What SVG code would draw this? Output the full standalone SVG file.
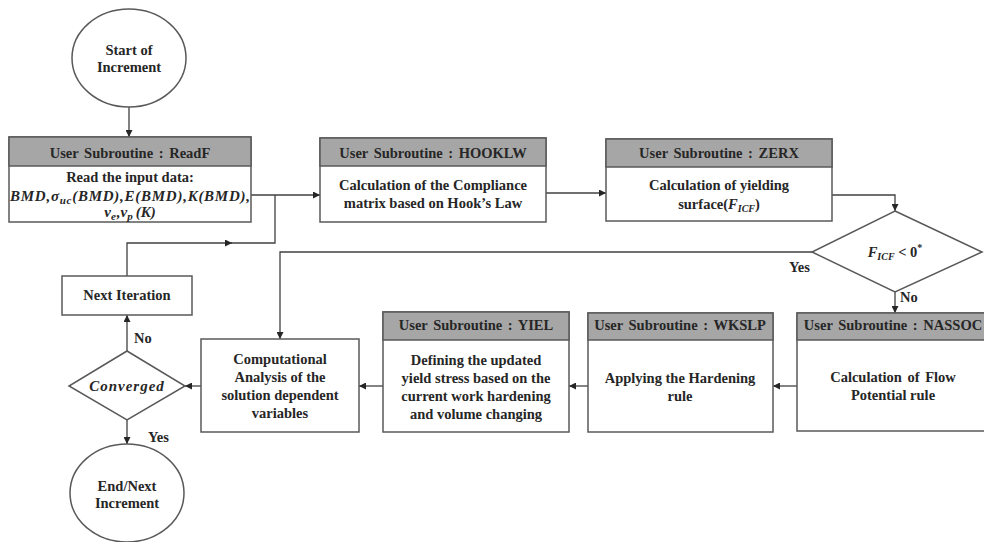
<svg xmlns="http://www.w3.org/2000/svg" width="984" height="542" viewBox="0 0 984 542">
<style>
  .box{fill:#fff;stroke:#595959;stroke-width:1.5}
  .hdr{fill:#a6a6a6;stroke:#595959;stroke-width:1.5}
  .t{font-family:"Liberation Serif","Times New Roman",serif;font-weight:bold;font-size:14.5px;fill:#262626;text-anchor:middle}
  .m{font-family:"Liberation Serif","Times New Roman",serif;font-weight:bold;font-style:italic;font-size:15px;fill:#262626;text-anchor:middle}
  .c{fill:none;stroke:#404040;stroke-width:1.3}
  .lbl{font-family:"Liberation Serif","Times New Roman",serif;font-weight:bold;font-size:14.5px;fill:#262626}
</style>
<defs>
  <marker id="ah" viewBox="0 0 10 10" refX="10" refY="5" markerWidth="7" markerHeight="7" markerUnits="userSpaceOnUse" orient="auto">
    <path d="M0,0 L10,5 L0,10 z" fill="#262626"/>
  </marker>
</defs>

<g id="connectors">
  <line class="c" x1="129" y1="107" x2="129" y2="137" marker-end="url(#ah)"/>
  <line class="c" x1="251" y1="195" x2="320" y2="195" marker-end="url(#ah)"/>
  <polyline class="c" points="127,276 127,243 232,243" marker-end="url(#ah)"/>
  <polyline class="c" points="230,243 275,243 275,195"/>
  <line class="c" x1="546" y1="193" x2="606" y2="193" marker-end="url(#ah)"/>
  <polyline class="c" points="832,195 895,195 895,211" marker-end="url(#ah)"/>
  <line class="c" x1="895" y1="292" x2="895" y2="313" marker-end="url(#ah)"/>
  <polyline class="c" points="812,252 280,252 280,339" marker-end="url(#ah)"/>
  <line class="c" x1="797" y1="386" x2="773" y2="386" marker-end="url(#ah)"/>
  <line class="c" x1="588" y1="386" x2="569" y2="386" marker-end="url(#ah)"/>
  <line class="c" x1="383" y1="386" x2="359" y2="386" marker-end="url(#ah)"/>
  <line class="c" x1="201" y1="386" x2="185" y2="386" marker-end="url(#ah)"/>
  <line class="c" x1="127" y1="351" x2="127" y2="315" marker-end="url(#ah)"/>
  <line class="c" x1="127" y1="420" x2="127" y2="444" marker-end="url(#ah)"/>
  <text class="lbl" x="789" y="272">Yes</text>
  <text class="lbl" x="900" y="302">No</text>
  <text class="lbl" x="134" y="343">No</text>
  <text class="lbl" x="148" y="442">Yes</text>
</g>

<g id="start">
  <ellipse cx="129" cy="58" rx="57" ry="49" class="box"/>
  <text class="t" x="129" y="55">Start of</text>
  <text class="t" x="129" y="72">Increment</text>
</g>

<g id="readf">
  <rect x="9" y="137" width="242" height="85" class="box"/>
  <rect x="9" y="137" width="242" height="29" class="hdr"/>
  <text class="t" x="130" y="158" word-spacing="2">User Subroutine  : ReadF</text>
  <text class="t" x="130" y="182">Read the input  data:</text>
  <text class="m" x="130" y="201" textLength="240" lengthAdjust="spacing">BMD,σ<tspan font-size="11" dy="3">uc</tspan><tspan dy="-3">(BMD),E(BMD),K(BMD),</tspan></text>
  <text class="m" x="130" y="217">v<tspan font-size="11" dy="3">e</tspan><tspan dy="-3" dx="1">,v</tspan><tspan font-size="11" dy="3">p</tspan><tspan dy="-3" dx="3">(K)</tspan></text>
</g>

<g id="hooklw">
  <rect x="320" y="138" width="226" height="84" class="box"/>
  <rect x="320" y="138" width="226" height="28" class="hdr"/>
  <text class="t" x="433" y="158" word-spacing="2">User Subroutine  : HOOKLW</text>
  <text class="t" x="433" y="190">Calculation  of the Compliance</text>
  <text class="t" x="433" y="208">matrix  based on Hook’s Law</text>
</g>

<g id="zerx">
  <rect x="606" y="139" width="226" height="82" class="box"/>
  <rect x="606" y="139" width="226" height="28" class="hdr"/>
  <text class="t" x="719" y="158" word-spacing="2">User Subroutine  : ZERX</text>
  <text class="t" x="719" y="190">Calculation  of yielding</text>
  <text class="t" x="719" y="209">surface(<tspan font-style="italic">F</tspan><tspan font-style="italic" font-size="10" dy="3">ICF</tspan><tspan dy="-3">)</tspan></text>
</g>

<g id="check">
  <polygon points="895,211 982,252 895,292 812,252" class="box"/>
  <text class="t" x="895" y="257"><tspan font-style="italic">F</tspan><tspan font-style="italic" font-size="10" dy="3">ICF</tspan><tspan dy="-3"> &lt; 0</tspan><tspan font-size="10" dy="-6">*</tspan></text>
</g>

<g id="nassoc">
  <rect x="797" y="313" width="195" height="118" class="box"/>
  <rect x="797" y="313" width="195" height="27" class="hdr"/>
  <text class="t" x="893" y="330" word-spacing="2">User Subroutine  : NASSOC</text>
  <text class="t" x="893" y="382" word-spacing="2">Calculation  of  Flow</text>
  <text class="t" x="893" y="400">Potential rule</text>
</g>

<g id="wkslp">
  <rect x="588" y="313" width="185" height="119" class="box"/>
  <rect x="588" y="313" width="185" height="27" class="hdr"/>
  <text class="t" x="680" y="330" word-spacing="2">User Subroutine  : WKSLP</text>
  <text class="t" x="680" y="383">Applying  the Hardening</text>
  <text class="t" x="680" y="401">rule</text>
</g>

<g id="yiel">
  <rect x="383" y="312" width="186" height="120" class="box"/>
  <rect x="383" y="312" width="186" height="28" class="hdr"/>
  <text class="t" x="476" y="330" word-spacing="2">User Subroutine  : YIEL</text>
  <text class="t" x="476" y="365">Defining  the updated</text>
  <text class="t" x="476" y="383">yield stress based on the</text>
  <text class="t" x="476" y="401">current  work  hardening</text>
  <text class="t" x="476" y="419">and  volume  changing</text>
</g>

<g id="computational">
  <rect x="201" y="339" width="158" height="93" class="box"/>
  <text class="t" x="280" y="364">Computational</text>
  <text class="t" x="280" y="382">Analysis  of the</text>
  <text class="t" x="280" y="400">solution  dependent</text>
  <text class="t" x="280" y="418">variables</text>
</g>

<g id="converged">
  <polygon points="127,351 185,386 127,420 69,386" class="box"/>
  <text class="m" x="127" y="391" letter-spacing="1">Converged</text>
</g>

<g id="next-iteration">
  <rect x="62" y="276" width="130" height="39" class="box"/>
  <text class="t" x="127" y="300">Next Iteration</text>
</g>

<g id="end">
  <ellipse cx="127" cy="493" rx="57" ry="49" class="box"/>
  <text class="t" x="127" y="491">End/Next</text>
  <text class="t" x="127" y="508">Increment</text>
</g>
</svg>
